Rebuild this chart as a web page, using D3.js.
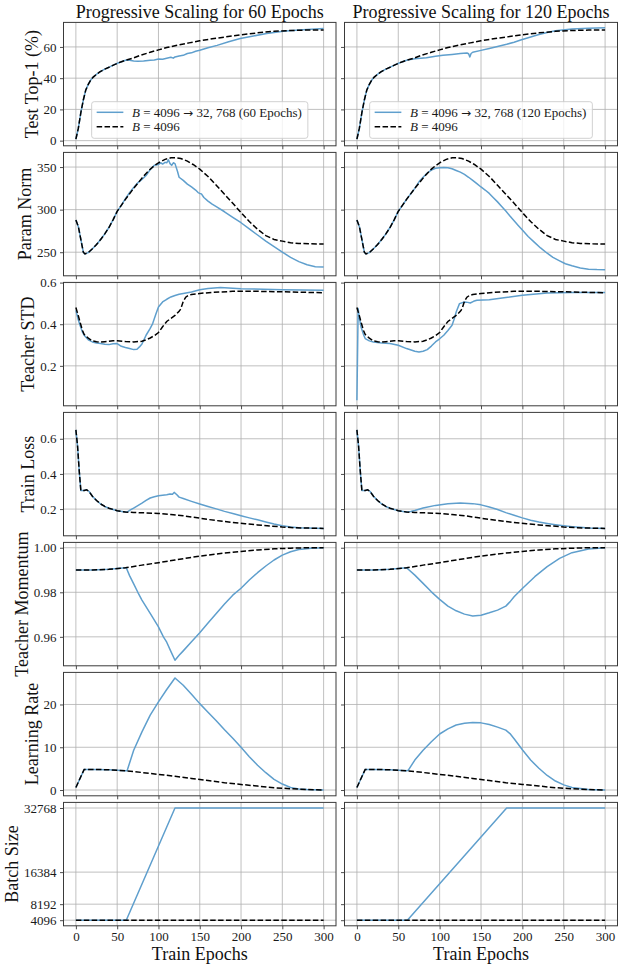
<!DOCTYPE html>
<html lang="en">
<head>
	<meta charset="UTF-8">
	<title>Progressive Scaling</title>
	<script src="https://d3js.org/d3.v7.min.js"></script>
	<style>
		body { margin: 0; background: #fff; }
		svg { display: block; font-family: "Liberation Serif", "Times New Roman", serif; }
	</style>
</head>
<body>
<script>
	//----data----
	var epochTicks = [0, 50, 100, 150, 200, 250, 300];
	var epochLim = [-15, 315];
	var colTitles = ['Progressive Scaling for 60 Epochs', 'Progressive Scaling for 120 Epochs'];
	var legendRuns = ['60 Epochs', '120 Epochs'];

	// Test Top-1 (%)
	var top1Lim = [-3.3, 75.7];
	var top1Ticks = [0, 20, 40, 60];
	var top1Base = [[0, 1], [3, 8], [6, 18], [9, 26], [12, 32.5], [15, 36], [18, 38.8], [21, 40.7], [25, 42.5], [29, 44],
		[35, 45.8], [41, 47.2], [46, 48.5], [51, 49.7], [56, 50.7], [61, 51.6], [70, 53], [78, 54.6], [90, 56.6], [100, 58.1],
		[110, 59.6], [120, 60.8], [137, 62.6], [150, 63.9], [165, 65.2], [180, 66.3], [199, 67.7], [220, 69], [240, 70],
		[260, 70.5], [280, 70.8], [300, 70.9]];
	var top1Prog60 = top1Base.filter(function (d) { return d[0] <= 61; }).concat([[65, 51.4], [70, 51], [75, 50.9], [82, 51],
		[90, 51.5], [95, 51.6], [100, 52.3], [105, 52.1], [110, 52.8], [115, 53.4], [118, 52.8], [120, 53.6], [125, 54.2],
		[130, 54.6], [135, 55.8], [140, 56.2], [145, 57.2], [150, 57.9], [160, 59.5], [171, 61], [185, 63.3], [199, 65.4],
		[215, 67], [231, 68.6], [251, 70], [270, 70.8], [285, 71.3], [300, 71.8]]);
	var top1Prog120 = top1Base.filter(function (d) { return d[0] <= 61; }).concat([[70, 52.4], [84, 53.1], [95, 54], [104, 54.6],
		[115, 55.2], [125, 55.8], [133, 56.1], [135, 55.6], [136.5, 53.6], [138, 55.8], [140, 56.6], [150, 57.8], [160, 59],
		[170, 60.3], [181, 61.7], [190, 63], [198, 64.4], [210, 66.4], [220, 68], [230, 69.3], [240, 70.4], [260, 71.4],
		[280, 71.9], [300, 72.2]]);

	// Param Norm
	var normLim = [222.3, 367.2];
	var normTicks = [250, 300, 350];
	var normBase = [[0, 287.7], [3, 280], [6, 265], [9, 250], [11, 248], [15, 249.5], [20, 254], [25, 259], [30, 265],
		[35, 271.5], [40, 279], [45, 288], [50, 298], [55, 305], [60, 312], [65, 318.5], [70, 325], [75, 331], [80, 337],
		[85, 342.5], [90, 347.5], [95, 351.5], [100, 355], [108, 359], [115, 360.8], [120, 361], [127, 360], [135, 357],
		[142, 353], [150, 347.5], [160, 339], [170, 328.6], [180, 318], [190, 307.5], [200, 296.5], [210, 286], [220, 277],
		[230, 269.5], [240, 265], [250, 263], [260, 261.2], [270, 260.3], [285, 259.8], [300, 259.7]];
	var normProg60 = normBase.filter(function (d) { return d[0] <= 55; }).concat([[60, 313], [65, 320], [70, 326], [75, 331.5],
		[80, 335.5], [85, 340], [90, 347], [95, 352], [100, 353], [103, 355], [105, 353.5], [108, 355.5], [110, 355],
		[112, 358.5], [114, 354], [116, 352], [118, 355], [120, 354], [123, 345], [125, 338], [130, 334.4], [135, 330],
		[140, 326.6], [145, 323], [148, 320], [150, 319], [152, 318.5], [155, 314.2], [160, 310], [165, 306.4], [170, 303.5],
		[180, 297.5], [190, 291], [200, 284.6], [210, 277.5], [220, 270.2], [230, 263], [240, 256.6], [250, 250], [260, 244],
		[270, 239], [280, 235.2], [290, 233], [300, 232.5]]);
	var normProg120 = normBase.filter(function (d) { return d[0] <= 70; }).concat([[76, 334], [80, 338], [85, 343], [90, 346.5],
		[95, 348.5], [100, 349.2], [105, 349.5], [110, 349.2], [115, 348], [120, 346], [125, 344], [130, 341.4], [135, 338],
		[140, 334.4], [145, 330.5], [150, 326.6], [155, 323], [160, 319], [165, 314], [170, 309.1], [175, 303.8], [180, 298.4],
		[185, 292.5], [190, 287], [195, 281.5], [200, 276], [207, 268.5], [215, 261.3], [222, 255], [230, 248.8], [237, 244],
		[245, 239.9], [252, 236.5], [260, 234], [270, 231.5], [280, 230.1], [290, 229.6], [300, 229.4]]);

	// Teacher STD
	var stdLim = [0.008, 0.601];
	var stdTicks = [0.2, 0.4, 0.6];
	var stdBase = [[0, 0.48], [3, 0.44], [5, 0.41], [8, 0.37], [10, 0.351], [15, 0.333], [20, 0.32], [25, 0.316], [30, 0.314],
		[35, 0.316], [40, 0.318], [45, 0.321], [50, 0.321], [60, 0.317], [70, 0.315], [80, 0.318], [85, 0.325], [90, 0.334],
		[95, 0.345], [100, 0.36], [105, 0.388], [110, 0.413], [115, 0.428], [120, 0.442], [125, 0.462], [127, 0.473],
		[130, 0.51], [133, 0.53], [136, 0.538], [140, 0.543], [150, 0.548], [165, 0.553], [190, 0.558], [220, 0.558],
		[260, 0.555], [300, 0.551]];
	var stdProg60 = [[0, 0.467], [3, 0.42], [5, 0.395], [8, 0.362], [10, 0.347], [15, 0.325], [20, 0.315], [25, 0.31],
		[30, 0.307], [35, 0.304], [40, 0.302], [45, 0.306], [50, 0.307], [55, 0.294], [60, 0.288], [65, 0.283], [70, 0.278],
		[74, 0.28], [77, 0.291], [80, 0.305], [85, 0.347], [90, 0.38], [93, 0.403], [97, 0.45], [100, 0.483], [105, 0.507],
		[110, 0.52], [115, 0.531], [120, 0.538], [125, 0.544], [140, 0.555], [150, 0.566], [160, 0.572], [175, 0.576],
		[200, 0.571], [250, 0.566], [300, 0.563]];
	var stdProg120 = [[0, 0.035], [1.5, 0.475], [3, 0.43], [5, 0.387], [8, 0.35], [10, 0.331], [15, 0.32], [20, 0.315],
		[30, 0.31], [40, 0.307], [50, 0.299], [60, 0.283], [70, 0.27], [75, 0.267], [80, 0.27], [85, 0.278], [90, 0.295],
		[95, 0.315], [100, 0.33], [105, 0.347], [110, 0.37], [115, 0.395], [118, 0.43], [120, 0.459], [124, 0.499],
		[130, 0.507], [134, 0.505], [137, 0.502], [141, 0.51], [145, 0.515], [160, 0.518], [180, 0.528], [200, 0.539],
		[230, 0.55], [260, 0.552], [300, 0.552]];

	// Train Loss
	var lossLim = [0.048, 0.75];
	var lossTicks = [0.2, 0.4, 0.6];
	var lossBase = [[0, 0.651], [2, 0.56], [4, 0.42], [6, 0.306], [10, 0.306], [13, 0.31], [16, 0.3], [20, 0.273],
		[25, 0.249], [30, 0.229], [35, 0.215], [40, 0.205], [50, 0.191], [60, 0.183], [70, 0.181], [85, 0.178], [100, 0.175],
		[115, 0.169], [130, 0.162], [145, 0.152], [160, 0.141], [175, 0.132], [190, 0.124], [205, 0.117], [220, 0.11],
		[235, 0.104], [250, 0.098], [265, 0.094], [280, 0.092], [300, 0.09]];
	var lossProg60 = lossBase.filter(function (d) { return d[0] <= 60; }).concat([[62, 0.183], [66, 0.195], [70, 0.206],
		[75, 0.22], [80, 0.234], [85, 0.249], [90, 0.263], [95, 0.27], [100, 0.276], [105, 0.279], [110, 0.282], [114, 0.286],
		[117, 0.284], [119, 0.295], [122, 0.283], [125, 0.268], [130, 0.26], [140, 0.244], [150, 0.229], [160, 0.215],
		[170, 0.201], [180, 0.187], [190, 0.175], [200, 0.162], [210, 0.15], [220, 0.139], [230, 0.127], [240, 0.115],
		[250, 0.105], [260, 0.098], [270, 0.094], [280, 0.092], [290, 0.091], [300, 0.09]]);
	var lossProg120 = lossBase.filter(function (d) { return d[0] <= 60; }).concat([[65, 0.186], [70, 0.192], [80, 0.206],
		[95, 0.221], [110, 0.23], [125, 0.234], [140, 0.231], [150, 0.224], [160, 0.212], [170, 0.198], [180, 0.18],
		[190, 0.165], [200, 0.15], [210, 0.137], [220, 0.126], [230, 0.118], [240, 0.111], [250, 0.105], [260, 0.1],
		[270, 0.096], [280, 0.092], [300, 0.09]]);

	// Teacher Momentum
	var momLim = [0.947, 1.0024];
	var momTicks = [0.96, 0.98, 1.00];
	var momBase = [[0, 0.99], [20, 0.99], [40, 0.9903], [60, 0.991], [80, 0.9922], [100, 0.9933], [120, 0.9945],
		[140, 0.9957], [160, 0.9967], [180, 0.9976], [200, 0.9983], [220, 0.999], [240, 0.9995], [260, 0.9998],
		[280, 1.0], [300, 1.0]];
	var momProg60 = momBase.filter(function (d) { return d[0] <= 60; }).concat([[61, 0.991], [65, 0.9875], [70, 0.9838],
		[75, 0.98], [80, 0.9765], [90, 0.9705], [100, 0.9645], [106, 0.96], [110, 0.9576], [115, 0.9535], [120, 0.9495],
		[125, 0.9517], [130, 0.9537], [140, 0.9578], [150, 0.9618], [160, 0.9662], [170, 0.9705], [180, 0.9747],
		[190, 0.9787], [200, 0.9818], [210, 0.9855], [220, 0.9888], [230, 0.9918], [240, 0.9945], [250, 0.9967],
		[260, 0.9982], [270, 0.9992], [285, 0.9998], [300, 1.0]]);
	var momProg120 = momBase.filter(function (d) { return d[0] <= 60; }).concat([[70, 0.9877], [80, 0.984], [90, 0.9802],
		[100, 0.9768], [110, 0.9738], [120, 0.9717], [130, 0.9702], [140, 0.9694], [150, 0.9697], [160, 0.9708],
		[170, 0.972], [180, 0.9738], [185, 0.9757], [190, 0.978], [200, 0.9817], [215, 0.987], [230, 0.9915],
		[245, 0.9952], [260, 0.9978], [280, 0.9994], [300, 1.0]]);

	// Learning Rate
	var lrLim = [-1.35, 27.5];
	var lrTicks = [0, 10, 20];
	var lrBase = [[0, 0.6], [10, 4.8], [20, 4.8], [40, 4.75], [60, 4.5], [80, 4.1], [100, 3.66], [120, 3.2], [140, 2.7],
		[160, 2.2], [180, 1.7], [200, 1.3], [220, 0.93], [240, 0.54], [260, 0.3], [280, 0.12], [300, 0]];
	var lrProg60 = lrBase.filter(function (d) { return d[0] <= 60; }).concat([[62, 4.5], [70, 9.3], [80, 13.6], [90, 17.5],
		[100, 20.6], [110, 23.5], [120, 26.2], [130, 24.5], [140, 22.4], [150, 20.2], [160, 18.2], [170, 16.2], [180, 14.1],
		[190, 12.1], [200, 10], [210, 7.8], [220, 5.8], [230, 4.05], [240, 2.5], [250, 1.4], [260, 0.6], [270, 0.25],
		[280, 0.1], [300, 0]]);
	var lrProg120 = lrBase.filter(function (d) { return d[0] <= 60; }).concat([[62, 4.6], [70, 7], [80, 9.3], [90, 11.3],
		[100, 13.1], [110, 14.3], [120, 15.2], [130, 15.6], [140, 15.8], [150, 15.7], [160, 15.3], [170, 14.7], [180, 14],
		[185, 13.2], [190, 12], [200, 9.4], [210, 7], [220, 5.1], [230, 3.4], [240, 2.1], [250, 1.2], [260, 0.6],
		[280, 0.15], [300, 0]]);

	// Batch Size
	var bsLim = [2662, 34200];
	var bsTicks = [4096, 8192, 16384, 32768];
	var bsBase = [[0, 4096], [300, 4096]];
	var bsProg60 = [[0, 4096], [61, 4096], [120, 32768], [300, 32768]];
	var bsProg120 = [[0, 4096], [61, 4096], [181, 32768], [300, 32768]];

	var rows = [
		{label: 'Test Top-1 (%)', lim: top1Lim, ticks: top1Ticks, fmt: d3.format('d'), series: [[top1Prog60, top1Base], [top1Prog120, top1Base]]},
		{label: 'Param Norm', lim: normLim, ticks: normTicks, fmt: d3.format('d'), series: [[normProg60, normBase], [normProg120, normBase]]},
		{label: 'Teacher STD', lim: stdLim, ticks: stdTicks, fmt: d3.format('.1f'), series: [[stdProg60, stdBase], [stdProg120, stdBase]]},
		{label: 'Train Loss', lim: lossLim, ticks: lossTicks, fmt: d3.format('.1f'), series: [[lossProg60, lossBase], [lossProg120, lossBase]]},
		{label: 'Teacher Momentum', lim: momLim, ticks: momTicks, fmt: d3.format('.2f'), series: [[momProg60, momBase], [momProg120, momBase]]},
		{label: 'Learning Rate', lim: lrLim, ticks: lrTicks, fmt: d3.format('d'), series: [[lrProg60, lrBase], [lrProg120, lrBase]]},
		{label: 'Batch Size', lim: bsLim, ticks: bsTicks, fmt: d3.format('d'), series: [[bsProg60, bsBase], [bsProg120, bsBase]]}
	];

	//----layout----
	var W = 623, H = 968;
	var colRange = [[63.5, 336], [344.5, 617.5]];
	var rowTop0 = 22.4, rowStep = 130, rowH = 123.4;
	var blue = '#5f9fcd', spine = '#3a3a3a';

	var svg = d3.select('body').append('svg')
		.attr('width', W)
		.attr('height', H);
	var defs = svg.append('defs');

	rows.forEach(function (row, r) {
		var top = rowTop0 + r * rowStep, bottom = top + rowH;
		var y = d3.scaleLinear().domain(row.lim).range([bottom, top]);

		[0, 1].forEach(function (c) {
			var x = d3.scaleLinear().domain(epochLim).range(colRange[c]);
			var left = colRange[c][0], right = colRange[c][1];
			var g = svg.append('g');
			var clipId = 'clip-' + r + '-' + c;

			defs.append('clipPath').attr('id', clipId)
				.append('rect').attr('x', left).attr('y', top).attr('width', right - left).attr('height', rowH);

			//----grid----
			g.append('g').selectAll('line').data(epochTicks).join('line')
				.attr('x1', function (d) { return x(d); }).attr('x2', function (d) { return x(d); })
				.attr('y1', top).attr('y2', bottom)
				.attr('stroke', '#b0b0b0').attr('stroke-width', 0.8);
			g.append('g').selectAll('line').data(row.ticks).join('line')
				.attr('x1', left).attr('x2', right)
				.attr('y1', function (d) { return y(d); }).attr('y2', function (d) { return y(d); })
				.attr('stroke', '#b0b0b0').attr('stroke-width', 0.8);

			//----lines----
			var line = d3.line()
				.x(function (d) { return x(d[0]); })
				.y(function (d) { return y(d[1]); });
			var lines = g.append('g').attr('clip-path', 'url(#' + clipId + ')');
			lines.append('path').datum(row.series[c][0])
				.attr('d', line).attr('fill', 'none')
				.attr('stroke', blue).attr('stroke-width', 1.5).attr('stroke-linejoin', 'round');
			lines.append('path').datum(row.series[c][1])
				.attr('d', line).attr('fill', 'none')
				.attr('stroke', '#000').attr('stroke-width', 1.5).attr('stroke-dasharray', '5.5,2.4');

			//----frame----
			g.append('rect').attr('x', left).attr('y', top).attr('width', right - left).attr('height', rowH)
				.attr('fill', 'none').attr('stroke', spine).attr('stroke-width', 1);

			//----axes----
			var xAxis = g.append('g').attr('transform', 'translate(0,' + bottom + ')')
				.call(d3.axisBottom(x).tickValues(epochTicks).tickSize(3.5).tickPadding(2)
					.tickFormat(r === rows.length - 1 ? d3.format('d') : function () { return ''; }));
			var yAxis = g.append('g').attr('transform', 'translate(' + left + ',0)')
				.call(d3.axisLeft(y).tickValues(row.ticks).tickSize(3.5).tickPadding(3.5)
					.tickFormat(c === 0 ? row.fmt : function () { return ''; }));
			[xAxis, yAxis].forEach(function (a) {
				a.select('.domain').remove();
				a.selectAll('line').attr('stroke', spine).attr('stroke-width', 0.9);
				a.selectAll('text').attr('font-size', 13).attr('fill', '#1a1a1a')
					.style('font-family', '"Liberation Serif", "Times New Roman", serif');
			});

			//----y label, placed left of the tick labels----
			if (c === 0) {
				var minX = left;
				yAxis.selectAll('text').each(function () {
					var b = this.getBoundingClientRect();
					if (b.width > 0) minX = Math.min(minX, b.left);
				});
				svg.append('text')
					.attr('transform', 'translate(' + (minX - 6) + ',' + (top + rowH / 2) + ') rotate(-90)')
					.attr('text-anchor', 'middle')
					.attr('font-size', 18).attr('fill', '#111')
					.text(row.label);
			}

			//----titles and legend on top row----
			if (r === 0) {
				svg.append('text')
					.attr('x', (left + right) / 2).attr('y', 18)
					.attr('text-anchor', 'middle').attr('font-size', 18).attr('fill', '#111')
					.text(colTitles[c]);

				var lg = g.append('g');
				var box = lg.append('rect');
				var t1 = lg.append('text').attr('font-size', 13).attr('fill', '#1a1a1a');
				t1.append('tspan').attr('font-style', 'italic').text('B');
				t1.append('tspan').text(' = 4096 ');
				t1.append('tspan').style('font-family', '"DejaVu Sans", sans-serif').attr('font-size', 12).text('\u2192');
				t1.append('tspan').text(' 32, 768 (' + legendRuns[c] + ')');
				var t2 = lg.append('text').attr('font-size', 13).attr('fill', '#1a1a1a');
				t2.append('tspan').attr('font-style', 'italic').text('B');
				t2.append('tspan').text(' = 4096');
				var tw = t1.node().getComputedTextLength();
				var bw = 5 + 26.7 + 8.7 + tw + 6, bh = 36.6;
				var bx = (left + right) / 2 - bw / 2, by = bottom - 7.5 - bh;
				box.attr('x', bx).attr('y', by).attr('width', bw).attr('height', bh).attr('rx', 2.5)
					.attr('fill', '#fff').attr('fill-opacity', 0.8).attr('stroke', '#cccccc').attr('stroke-width', 0.9);
				var ry = [by + 10.6, by + 25];
				lg.append('line').attr('x1', bx + 5).attr('x2', bx + 31.7).attr('y1', ry[0]).attr('y2', ry[0])
					.attr('stroke', blue).attr('stroke-width', 1.5);
				lg.append('line').attr('x1', bx + 5).attr('x2', bx + 31.7).attr('y1', ry[1]).attr('y2', ry[1])
					.attr('stroke', '#000').attr('stroke-width', 1.5).attr('stroke-dasharray', '5.5,2.4');
				t1.attr('x', bx + 40.4).attr('y', ry[0] + 4.5);
				t2.attr('x', bx + 40.4).attr('y', ry[1] + 4.5);
			}
		});
	});

	colRange.forEach(function (cr) {
		svg.append('text')
			.attr('x', (cr[0] + cr[1]) / 2).attr('y', 959.5)
			.attr('text-anchor', 'middle').attr('font-size', 18).attr('fill', '#111')
			.text('Train Epochs');
	});
</script>
</body>
</html>
